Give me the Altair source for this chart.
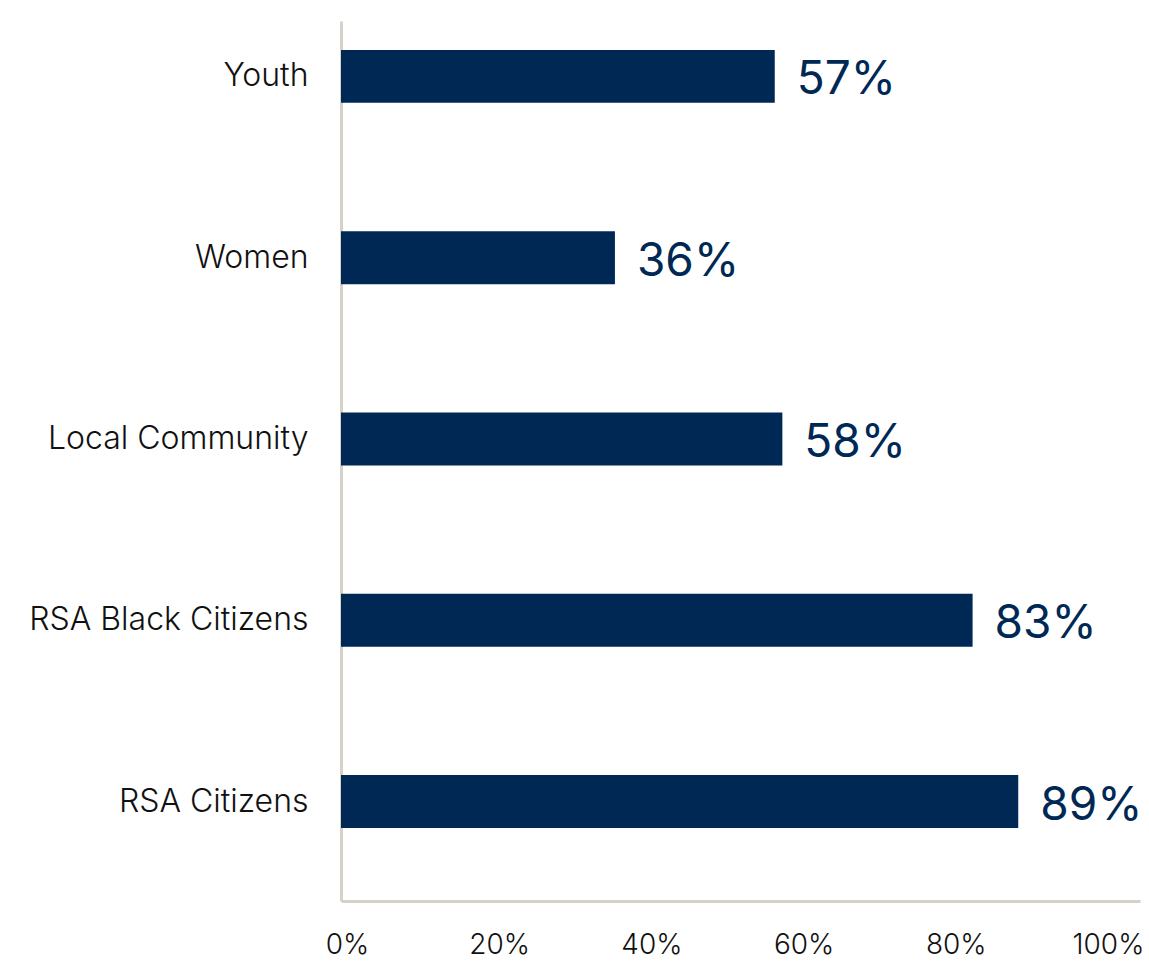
import altair as alt
import pandas as pd

categories = ["Youth", "Women", "Local Community", "RSA Black Citizens", "RSA Citizens"]
values = [57, 36, 58, 83, 89]
labels = ["57%", "36%", "58%", "83%", "89%"]

df = pd.DataFrame({"cat": categories, "val": values, "lab": labels})

navy = "#002855"
axis_col = "#d6d2c8"
font = "Inter"

x = alt.X("val:Q",
          scale=alt.Scale(domain=[0, 105], nice=False, zero=True),
          axis=alt.Axis(values=[0, 20, 40, 60, 80, 100], labelExpr="datum.value + '%'",
                        title=None, grid=False, ticks=False, domainColor=axis_col,
                        domainWidth=3, labelPadding=30, labelFontSize=28,
                        labelFontWeight=300, labelFlush=False,
                        labelColor="#111111", labelFont=font, labelOffset=6))
y = alt.Y("cat:N", sort=categories,
          scale=alt.Scale(paddingInner=0.708, paddingOuter=0.281, align=0.284),
          axis=alt.Axis(title=None, ticks=False, domainColor=axis_col, domainWidth=3,
                        labelPadding=33, labelFontSize=32, labelColor="#111111",
                        labelFontWeight=300, labelFont=font, labelLimit=400))

bars = alt.Chart(df).mark_bar(color=navy).encode(x=x, y=y)
text = alt.Chart(df).mark_text(align="left", baseline="middle", dx=22, dy=4,
                               fontSize=46, color=navy, font=font).encode(
    x=alt.X("val:Q"), y=alt.Y("cat:N", sort=categories), text="lab:N")

chart = (bars + text).properties(
    width=799, height=880,
    background="white",
    autosize=alt.AutoSizeParams(type="none"),
    padding={"left": 341, "top": 21, "right": 9, "bottom": 63},
).configure_view(stroke=None)

chart.save("out.html", embed_options={"renderer": "svg", "actions": False})
